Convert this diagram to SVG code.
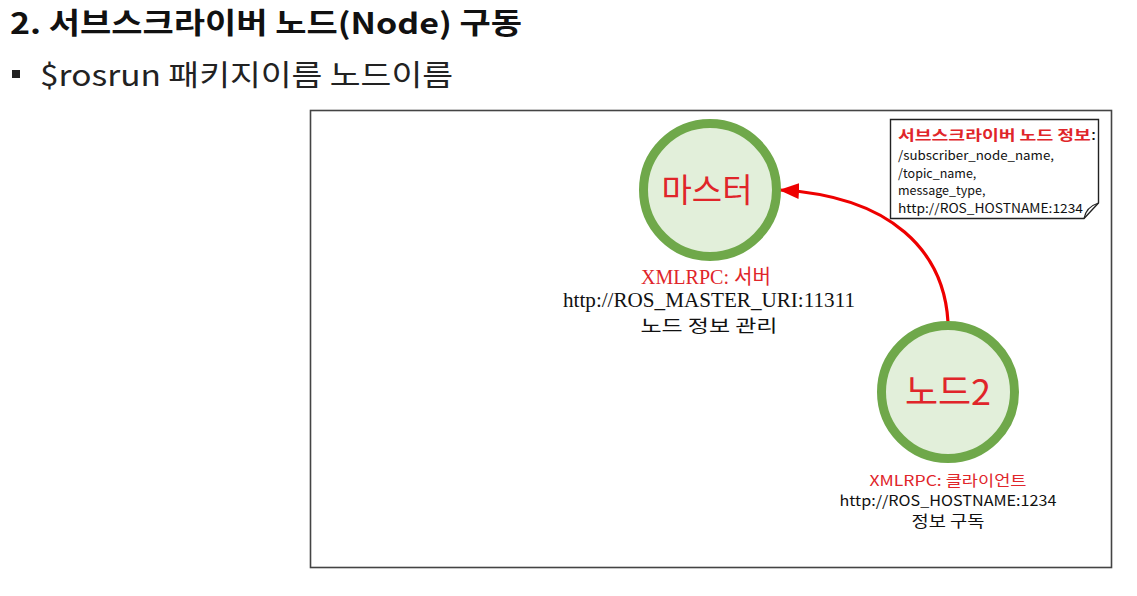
<svg xmlns="http://www.w3.org/2000/svg" width="1137" height="596" viewBox="0 0 1137 596">
<style>
.ko{font-family:"Noto Sans CJK KR","Liberation Sans",sans-serif}
.sf{font-family:"Liberation Serif","Noto Sans CJK KR",serif}
.node{fill:#e2efda;stroke:#6fa84a;stroke-width:9}
.red{fill:#e0252a}
</style>
<defs>
<marker id="ah2" viewBox="0 0 20 16" refX="19" refY="8" markerWidth="20" markerHeight="16" markerUnits="userSpaceOnUse" orient="auto">
<path d="M0,0 L20,8 L0,16 Z" fill="#ee0000"/>
</marker>
</defs>
<rect width="1137" height="596" fill="#ffffff"/>
<text x="10" y="34" class="ko" font-size="29" font-weight="bold" fill="#111" textLength="512" lengthAdjust="spacingAndGlyphs">2. 서브스크라이버 노드(Node) 구동</text>
<rect x="12" y="70" width="8" height="8" fill="#222"/>
<text x="40" y="86" class="ko" font-size="29" fill="#222" textLength="413" lengthAdjust="spacingAndGlyphs">$rosrun 패키지이름 노드이름</text>
<rect x="310.5" y="110.5" width="801" height="457" fill="none" stroke="#444" stroke-width="1.6"/>
<g id="connectors">
<path d="M948,322 C944,252 892,196 780,190" fill="none" stroke="#ee0000" stroke-width="3.2" marker-end="url(#ah2)"/>
</g>
<g id="master">
<circle cx="710" cy="190" r="66.5" class="node"/>
<text x="707" y="202" text-anchor="middle" class="ko red" font-size="33">마스터</text>
<text x="706" y="284" text-anchor="middle" class="sf red" font-size="20" textLength="130" lengthAdjust="spacingAndGlyphs">XMLRPC: 서버</text>
<text x="709" y="307" text-anchor="middle" class="sf" font-size="21" fill="#111" textLength="292" lengthAdjust="spacingAndGlyphs">http://ROS_MASTER_URI:11311</text>
<text x="709" y="332" text-anchor="middle" class="ko" font-size="17.5" fill="#111" textLength="137" lengthAdjust="spacingAndGlyphs">노드 정보 관리</text>
</g>
<g id="node2">
<circle cx="948" cy="392" r="66.5" class="node"/>
<text x="948" y="405" text-anchor="middle" class="ko red" font-size="36">노드2</text>
<text x="948" y="486" text-anchor="middle" class="ko red" font-size="14.5" textLength="157" lengthAdjust="spacingAndGlyphs">XMLRPC: 클라이언트</text>
<text x="948" y="506" text-anchor="middle" class="ko" font-size="14.5" fill="#111" textLength="217" lengthAdjust="spacingAndGlyphs">http://ROS_HOSTNAME:1234</text>
<text x="948" y="527" text-anchor="middle" class="ko" font-size="15.5" fill="#111" textLength="73" lengthAdjust="spacingAndGlyphs">정보 구독</text>
</g>
<g id="note">
<path d="M890.5,119.5 H1098.5 V203 L1084,218.5 H890.5 Z" fill="#fff" stroke="#222" stroke-width="1.4"/>
<path d="M1084,218.5 Q1086,207 1098.5,203" fill="none" stroke="#222" stroke-width="1.2"/>
<text x="898" y="140" class="ko red" font-size="14" font-weight="bold" textLength="198" lengthAdjust="spacingAndGlyphs">서브스크라이버 노드 정보<tspan fill="#111" font-weight="normal">:</tspan></text>
<text x="898" y="160" class="ko" font-size="12.5" fill="#111" textLength="156" lengthAdjust="spacingAndGlyphs">/subscriber_node_name,</text>
<text x="898" y="178" class="ko" font-size="12.5" fill="#111">/topic_name,</text>
<text x="898" y="195" class="ko" font-size="12.5" fill="#111">message_type,</text>
<text x="898" y="213" class="ko" font-size="12.5" fill="#111" textLength="185" lengthAdjust="spacingAndGlyphs">http://ROS_HOSTNAME:1234</text>
</g>
</svg>
